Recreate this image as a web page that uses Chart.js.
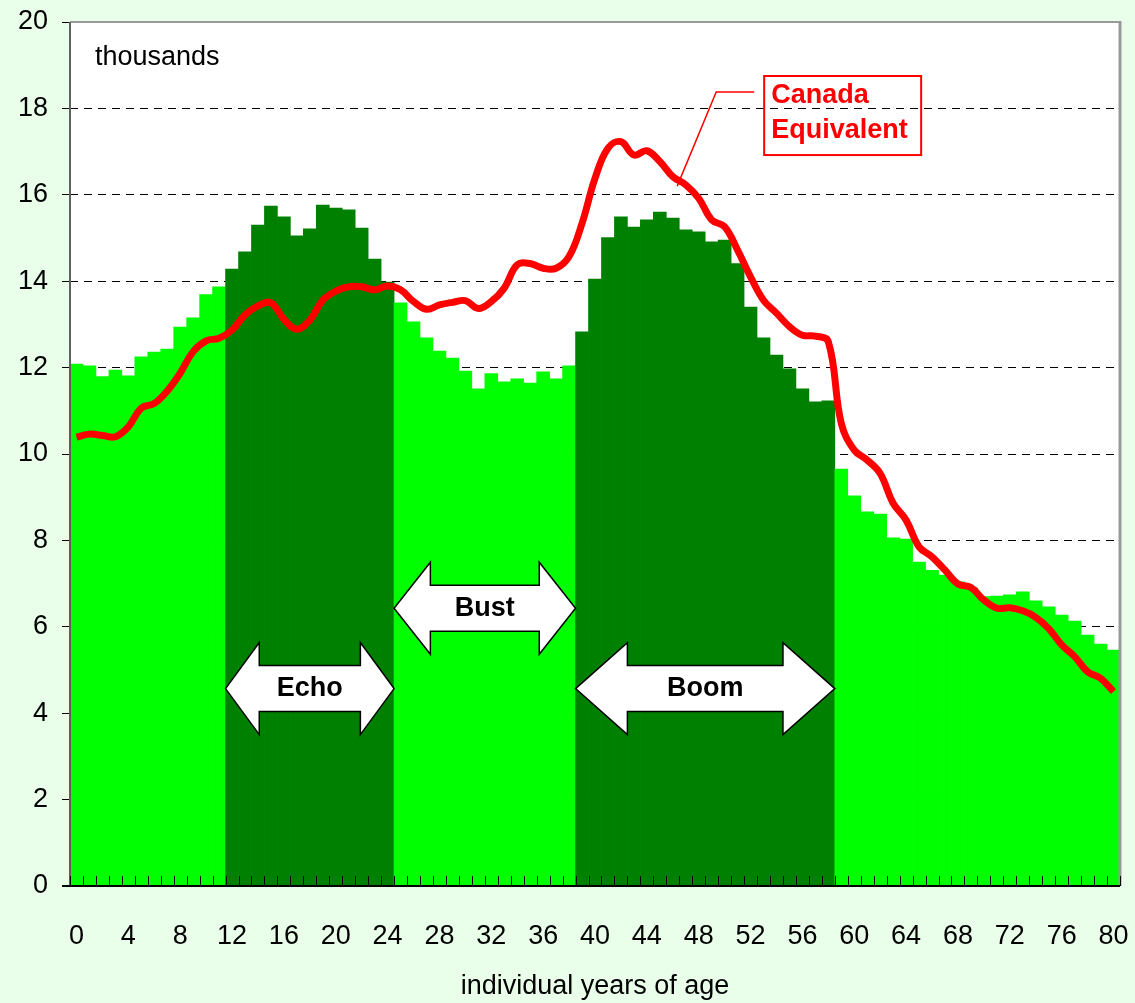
<!DOCTYPE html>
<html>
<head>
<meta charset="utf-8">
<script src="https://cdn.jsdelivr.net/npm/chart.js@4.4.1/dist/chart.umd.min.js"></script>
<style>
  html, body { margin: 0; padding: 0; background: #eaffea; }
  #wrap { width: 1135px; height: 1003px; }
</style>
</head>
<body>
<div id="wrap"><canvas id="ageChart" width="1135" height="1003"></canvas></div>
<script>
// ages 0..80, one bar per year of age
const ages = ['0','1','2','3','4','5','6','7','8','9','10','11','12','13','14','15','16','17','18','19','20',
  '21','22','23','24','25','26','27','28','29','30','31','32','33','34','35','36','37','38','39','40',
  '41','42','43','44','45','46','47','48','49','50','51','52','53','54','55','56','57','58','59','60',
  '61','62','63','64','65','66','67','68','69','70','71','72','73','74','75','76','77','78','79','80'];

// population by single year of age (thousands)
const population = [
  12.08, 12.04, 11.79, 11.94, 11.81, 12.25, 12.36, 12.43, 12.94, 13.15, 13.69, 13.87,
  14.28, 14.68, 15.30, 15.74, 15.49, 15.05, 15.21, 15.76, 15.69, 15.65, 15.23, 14.51, 13.98,
  13.50, 13.06, 12.69, 12.38, 12.22, 11.92, 11.51, 11.86, 11.67, 11.74, 11.64, 11.90, 11.74, 12.04,
  12.83, 14.05, 15.01, 15.49, 15.25, 15.42, 15.60, 15.46, 15.19, 15.14, 14.91, 14.95, 14.41, 13.40,
  12.69, 12.29, 11.97, 11.51, 11.21, 11.23,
  9.65, 9.03, 8.66, 8.61, 8.06, 8.03, 7.50, 7.31, 7.20, 7.04, 6.90, 6.70, 6.71, 6.74, 6.81, 6.60,
  6.46, 6.27, 6.13, 5.81, 5.60, 5.46
];

// Canada equivalent (scaled), thousands
const canadaEquivalent = [
  10.39, 10.46, 10.43, 10.40, 10.63, 11.06, 11.17, 11.46, 11.87, 12.37, 12.62, 12.68,
  12.87, 13.22, 13.43, 13.50, 13.12, 12.89, 13.10, 13.56, 13.77, 13.87, 13.87, 13.80, 13.89,
  13.80, 13.53, 13.35, 13.45, 13.51, 13.55, 13.37, 13.53, 13.84, 14.38, 14.41, 14.30, 14.30, 14.57,
  15.34, 16.38, 17.08, 17.23, 16.92, 17.02, 16.77, 16.42, 16.23, 15.92, 15.42, 15.26, 14.72, 14.10,
  13.56, 13.26, 12.95, 12.75, 12.73, 12.60,
  10.71, 10.09, 9.86, 9.55, 8.86, 8.47, 7.85, 7.62, 7.31, 6.99, 6.91, 6.62, 6.43, 6.44, 6.37, 6.22,
  5.96, 5.58, 5.31, 4.96, 4.81, 4.50
];

// generations (first and last age of each band) and where their arrows sit
const generations = [
  { name: 'Echo', from: 12, to: 24, level: 4.57, dark: true },
  { name: 'Bust', from: 25, to: 38, level: 6.43, dark: false },
  { name: 'Boom', from: 39, to: 58, level: 4.57, dark: true }
];

const yTicks = [0, 2, 4, 6, 8, 10, 12, 14, 16, 18, 20];

const LIGHT = '#00ff00';
const DARK = '#008000';
const FONT = "'Liberation Sans', Arial, Helvetica, sans-serif";
const FONT_SIZE = 27;

function barColour(i) {
  const g = generations.find(g => i >= g.from && i <= g.to);
  return g && g.dark ? DARK : LIGHT;
}

// left edge of a year's bar, in pixels
function edgeX(xs, age) {
  const bw = xs.getPixelForValue(1) - xs.getPixelForValue(0);
  return xs.getPixelForValue(0) - bw / 2 + age * bw;
}

function drawDoubleArrow(ctx, x1, x2, yc, label) {
  const head = (x2 - x1) * 0.2;
  const hh = 46, sh = 23;
  ctx.save();
  ctx.beginPath();
  ctx.moveTo(x1, yc);
  ctx.lineTo(x1 + head, yc - hh);
  ctx.lineTo(x1 + head, yc - sh);
  ctx.lineTo(x2 - head, yc - sh);
  ctx.lineTo(x2 - head, yc - hh);
  ctx.lineTo(x2, yc);
  ctx.lineTo(x2 - head, yc + hh);
  ctx.lineTo(x2 - head, yc + sh);
  ctx.lineTo(x1 + head, yc + sh);
  ctx.lineTo(x1 + head, yc + hh);
  ctx.closePath();
  ctx.fillStyle = '#ffffff';
  ctx.fill();
  ctx.lineWidth = 1.5;
  ctx.strokeStyle = '#000000';
  ctx.stroke();
  ctx.fillStyle = '#000000';
  ctx.font = 'bold ' + FONT_SIZE + 'px ' + FONT;
  ctx.textAlign = 'center';
  ctx.textBaseline = 'middle';
  ctx.fillText(label, (x1 + x2) / 2, yc);
  ctx.restore();
}

const plotDecor = {
  id: 'plotDecor',
  beforeDraw(chart) {
    const { ctx, chartArea: a } = chart;
    ctx.save();
    ctx.fillStyle = '#ffffff';
    ctx.fillRect(a.left, a.top, a.right - a.left, a.bottom - a.top);
    ctx.restore();
  },
  afterDatasetsDraw(chart) {
    const { ctx, chartArea: a } = chart;
    const xs = chart.scales.x, ys = chart.scales.y;
    ctx.save();

    // frame: grey top/right, dark left, black bottom axis
    ctx.strokeStyle = '#999999';
    ctx.lineWidth = 2;
    ctx.beginPath();
    ctx.moveTo(a.left, a.top);
    ctx.lineTo(a.right, a.top);
    ctx.stroke();
    ctx.lineWidth = 3;
    ctx.beginPath();
    ctx.moveTo(a.right, a.top - 1);
    ctx.lineTo(a.right, a.bottom);
    ctx.stroke();
    ctx.strokeStyle = '#606060';
    ctx.lineWidth = 2;
    ctx.beginPath();
    ctx.moveTo(a.left, a.top);
    ctx.lineTo(a.left, a.bottom);
    ctx.stroke();
    ctx.strokeStyle = '#000000';
    ctx.beginPath();
    ctx.moveTo(a.left - 8, a.bottom);
    ctx.lineTo(a.right, a.bottom);
    ctx.stroke();

    // small inside ticks between every year
    ctx.lineWidth = 1;
    ctx.beginPath();
    for (let i = 0; i <= ages.length; i++) {
      const x = Math.round(edgeX(xs, i)) + 0.5;
      ctx.moveTo(x, a.bottom);
      ctx.lineTo(x, a.bottom - 10);
    }
    ctx.stroke();

    // generation arrows
    generations.forEach(g => {
      drawDoubleArrow(ctx, edgeX(xs, g.from), edgeX(xs, g.to + 1), ys.getPixelForValue(g.level), g.name);
    });

    // unit label
    ctx.fillStyle = '#000000';
    ctx.font = FONT_SIZE + 'px ' + FONT;
    ctx.textAlign = 'left';
    ctx.textBaseline = 'alphabetic';
    ctx.fillText('thousands', a.left + 25, a.top + 43);

    // callout for the red line
    const bx1 = edgeX(xs, 53.55), bx2 = edgeX(xs, 65.66);
    const by1 = ys.getPixelForValue(18.75), by2 = ys.getPixelForValue(16.92);
    ctx.strokeStyle = '#ff0000';
    ctx.lineWidth = 2;
    ctx.strokeRect(bx1, by1, bx2 - bx1, by2 - by1);
    ctx.lineWidth = 1.5;
    ctx.beginPath();
    ctx.moveTo(edgeX(xs, 52.78), ys.getPixelForValue(18.38));
    ctx.lineTo(edgeX(xs, 49.85), ys.getPixelForValue(18.38));
    ctx.lineTo(edgeX(xs, 46.84), ys.getPixelForValue(16.2));
    ctx.stroke();
    ctx.fillStyle = '#ff0000';
    ctx.font = 'bold ' + FONT_SIZE + 'px ' + FONT;
    ctx.textBaseline = 'middle';
    ctx.fillText('Canada', bx1 + 7, by1 + 20);
    ctx.fillText('Equivalent', bx1 + 7, by1 + 55);
    ctx.restore();
  }
};

new Chart(document.getElementById('ageChart'), {
  type: 'bar',
  data: {
    labels: ages,
    datasets: [
      {
        type: 'line',
        label: 'Canada Equivalent',
        data: canadaEquivalent,
        borderColor: '#ff0000',
        borderWidth: 7,
        pointRadius: 0,
        tension: 0.4,
        fill: false,
        order: 0
      },
      {
        type: 'bar',
        label: 'Population',
        data: population,
        backgroundColor: population.map((_, i) => barColour(i)),
        borderWidth: 0,
        barPercentage: 1.0,
        categoryPercentage: 1.0,
        order: 1
      }
    ]
  },
  options: {
    responsive: false,
    animation: false,
    layout: { padding: { left: 0, right: 15, top: 22, bottom: 0 } },
    plugins: {
      legend: { display: false },
      tooltip: { enabled: false }
    },
    scales: {
      x: {
        offset: true,
        grid: { display: false, drawTicks: false },
        border: { display: false },
        ticks: {
          autoSkip: false,
          maxRotation: 0,
          minRotation: 0,
          color: '#000000',
          font: { family: FONT, size: FONT_SIZE },
          padding: 34,
          callback: (v, i) => (i % 4 === 0 ? ages[i] : '')
        },
        title: {
          display: true,
          text: 'individual years of age',
          color: '#000000',
          font: { family: FONT, size: FONT_SIZE },
          padding: { top: 0, bottom: 0 }
        },
        afterFit: s => {
          s.height = 117;
          s.paddingLeft = 0;
          s.paddingRight = 0;
        }
      },
      y: {
        min: 0,
        max: 20,
        afterBuildTicks: s => { s.ticks = yTicks.map(v => ({ value: v })); },
        ticks: {
          color: '#000000',
          font: { family: FONT, size: FONT_SIZE },
          padding: 14
        },
        grid: {
          color: c => (c.tick && (c.tick.value === 0 || c.tick.value === 20)) ? 'rgba(0,0,0,0)' : '#000000',
          lineWidth: 1,
          drawTicks: true,
          tickLength: 8,
          tickColor: '#000000',
          tickWidth: 1
        },
        border: { display: false, dash: [8, 6] },
        afterFit: s => {
          s.width = 70;
          s.paddingTop = 0;
          s.paddingBottom = 0;
        }
      }
    }
  },
  plugins: [plotDecor]
});
</script>
</body>
</html>
